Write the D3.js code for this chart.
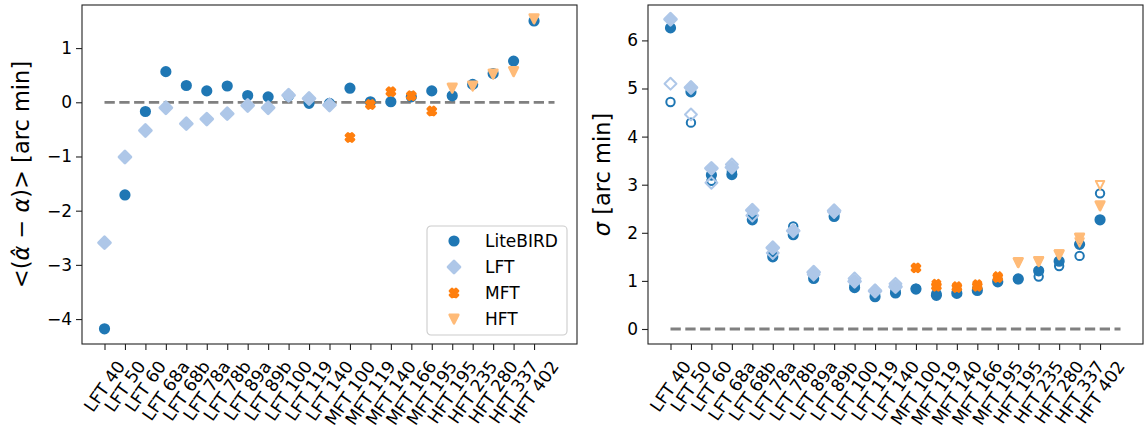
<!DOCTYPE html>
<html>
<head>
<meta charset="utf-8">
<script src="https://cdn.jsdelivr.net/npm/d3@7"></script>
<style>
body { margin: 0; background: #fff; }
text { font-family: "DejaVu Sans", sans-serif; }
</style>
</head>
<body>
<svg width="1145" height="435"></svg>
<script>
var svg = d3.select('svg');

// Channels on the x axis
var categories = ['LFT 40', 'LFT 50', 'LFT 60', 'LFT 68a', 'LFT 68b', 'LFT 78a', 'LFT 78b',
    'LFT 89a', 'LFT 89b', 'LFT 100', 'LFT 119', 'LFT 140', 'MFT 100', 'MFT 119', 'MFT 140',
    'MFT 166', 'MFT 195', 'HFT 195', 'HFT 235', 'HFT 280', 'HFT 337', 'HFT 402'];
var lftChannels = categories.slice(0, 12);
var mftChannels = categories.slice(12, 17);
var hftChannels = categories.slice(17);

// Left panel: mean bias [arc min]
var biasLiteBIRD = [-4.18, -1.71, -0.17, 0.565, 0.31, 0.21, 0.30, 0.125, 0.10, 0.12, -0.02, -0.02,
    0.26, 0.01, 0.01, 0.10, 0.21, 0.12, 0.33, 0.53, 0.76, 1.50];
var biasLFT = [-2.59, -1.01, -0.52, -0.10, -0.395, -0.31, -0.21, -0.06, -0.10, 0.13, 0.07, -0.05];
var biasMFT = [-0.65, -0.04, 0.195, 0.12, -0.16];
var biasHFT = [0.26, 0.30, 0.52, 0.565, 1.54];

// Right panel: sigma [arc min], filled and open estimates
var sigmaLiteBIRD = [6.26, 4.93, 3.20, 3.21, 2.27, 1.50, 1.96, 1.05, 2.34, 0.86, 0.67, 0.75,
    0.83, 0.70, 0.74, 0.80, 0.98, 1.04, 1.21, 1.41, 1.76, 2.27];
var sigmaLiteBIRDOpen = [4.72, 4.29, 3.08, 3.28, 2.36, 1.56, 2.13, 1.10, 2.38, 0.91, 0.72, 0.80,
    0.84, 0.74, 0.77, 0.84, 1.01, 1.04, 1.09, 1.31, 1.52, 2.82];
var sigmaLFT = [6.44, 5.02, 3.34, 3.36, 2.47, 1.69, 2.04, 1.18, 2.46, 0.99, 0.79, 0.88];
var sigmaLFTOpen = [5.10, 4.46, 3.04, 3.42, 2.36, 1.58, 2.05, 1.13, 2.43, 1.05, 0.80, 0.94];
var sigmaMFT = [1.27, 0.89, 0.86, 0.89, 1.07];
var sigmaMFTOpen = [1.27, 0.94, 0.89, 0.93, 1.10];
var sigmaHFT = [1.38, 1.40, 1.54, 1.89, 2.56];
var sigmaHFTOpen = [1.38, 1.41, 1.55, 1.80, 2.99];

var leftTicks = [-4, -3, -2, -1, 0, 1];
var rightTicks = [0, 1, 2, 3, 4, 5, 6];

var colors = {LiteBIRD: '#1f77b4', LFT: '#aec7e8', MFT: '#ff7f0e', HFT: '#ffbb78'};
var shapes = {LiteBIRD: 'circle', LFT: 'diamond', MFT: 'x', HFT: 'tri'};
var m = 8.4;

function markerPath(shape, s) {
    var h = s / 2;
    if (shape == 'circle') {
        var p = d3.path();
        p.arc(0, 0, h, 0, 2 * Math.PI);
        p.closePath();
        return p.toString();
    }
    if (shape == 'diamond') {
        var d = s * 0.7071;
        return 'M0,' + (-d) + 'L' + d + ',0L0,' + d + 'L' + (-d) + ',0Z';
    }
    if (shape == 'tri') {
        return 'M' + (-h) + ',' + (-h) + 'L' + h + ',' + (-h) + 'L0,' + h + 'Z';
    }
    // filled X: plus sign rotated by 45 degrees
    var pts = [[-1, -3], [1, -3], [1, -1], [3, -1], [3, 1], [1, 1], [1, 3], [-1, 3], [-1, 1], [-3, 1], [-3, -1], [-1, -1]];
    var c = Math.SQRT1_2;
    return 'M' + pts.map(function(q) {
        var px = q[0] * s / 6, py = q[1] * s / 6;
        return [(px * c - py * c).toFixed(2), (px * c + py * c).toFixed(2)];
    }).join('L') + 'Z';
}

function addMarkers(g, x, y, name, cats, values, open) {
    g.selectAll(null)
        .data(values)
        .enter()
        .append('path')
        .attr('d', markerPath(shapes[name], m))
        .attr('transform', function(d, i) {
            return 'translate(' + [x(categories.indexOf(cats[i])), y(d)] + ')';
        })
        .attr('fill', open ? 'none' : colors[name])
        .attr('stroke', colors[name])
        .attr('stroke-width', open ? 2 : 2.8)
        .attr('stroke-linejoin', 'round');
}

var plotTop = 5, plotBottom = 344;

function drawPanel(p) {
    var x = d3.scaleLinear().domain([-1.1, 23.1]).range([p.left, p.right]);
    var y = d3.scaleLinear().domain(p.yDomain).range([plotBottom, plotTop]);
    var g = svg.append('g');

    g.append('line')
        .attr('x1', x(0)).attr('x2', x(22))
        .attr('y1', y(0)).attr('y2', y(0))
        .attr('stroke', '#808080')
        .attr('stroke-width', 2.8)
        .attr('stroke-dasharray', '10.3,4.5');

    p.series.forEach(function(s) {
        addMarkers(g, x, y, s[0], s[1], s[2], s[3]);
    });

    g.append('rect')
        .attr('x', p.left).attr('y', plotTop)
        .attr('width', p.right - p.left).attr('height', plotBottom - plotTop)
        .attr('fill', 'none')
        .attr('stroke', '#222')
        .attr('stroke-width', 1.1);

    var yAxis = d3.axisLeft(y)
        .tickValues(p.yTicks)
        .tickSize(6)
        .tickPadding(4)
        .tickFormat(function(d) { return d < 0 ? '\u2212' + (-d) : d; });
    var ya = g.append('g')
        .attr('transform', 'translate(' + p.left + ',0)')
        .call(yAxis);
    ya.select('.domain').remove();
    ya.selectAll('line').attr('stroke', '#222').attr('stroke-width', 1.1);
    ya.selectAll('text')
        .attr('font-size', 17)
        .attr('font-family', 'DejaVu Sans')
        .attr('fill', '#000');

    var xAxis = d3.axisBottom(x)
        .tickValues(d3.range(categories.length))
        .tickSize(6)
        .tickFormat('');
    var xa = g.append('g')
        .attr('transform', 'translate(0,' + plotBottom + ')')
        .call(xAxis);
    xa.select('.domain').remove();
    xa.selectAll('line').attr('stroke', '#222').attr('stroke-width', 1.1);

    var angle = 55 * Math.PI / 180;
    categories.forEach(function(c, i) {
        var t = g.append('text')
            .text(c)
            .attr('font-size', 17.3)
            .attr('text-anchor', 'middle')
            .attr('dominant-baseline', 'central')
            .attr('fill', '#000');
        var w = t.node().getComputedTextLength();
        var hgt = 17;
        var bh = w * Math.sin(angle) + hgt * Math.cos(angle);
        var cx = x(i), cy = plotBottom + 14 + bh / 2;
        t.attr('x', cx).attr('y', cy)
            .attr('transform', 'rotate(-55,' + cx + ',' + cy + ')');
    });

    var lab = g.append('text')
        .attr('font-size', 22.5)
        .attr('text-anchor', 'middle')
        .attr('fill', '#000')
        .attr('transform', 'translate(' + p.labelX + ',' + ((plotTop + plotBottom) / 2) + ') rotate(-90)');
    p.label(lab);
    return {x: x, y: y};
}

drawPanel({
    left: 82, right: 577,
    yDomain: [-4.46, 1.795],
    yTicks: leftTicks,
    labelX: 29,
    series: [
        ['LiteBIRD', categories, biasLiteBIRD, false],
        ['LFT', lftChannels, biasLFT, false],
        ['MFT', mftChannels, biasMFT, false],
        ['HFT', hftChannels, biasHFT, false]
    ],
    label: function(t) {
        t.append('tspan').text('<(');
        t.append('tspan').attr('font-style', 'italic').text('\u03b1\u0302');
        t.append('tspan').text(' \u2212 ');
        t.append('tspan').attr('font-style', 'italic').text('\u03b1');
        t.append('tspan').text(')> [arc min]');
    }
});

drawPanel({
    left: 648, right: 1143,
    yDomain: [-0.312, 6.736],
    yTicks: rightTicks,
    labelX: 610,
    series: [
        ['LiteBIRD', categories, sigmaLiteBIRD, false],
        ['LiteBIRD', categories, sigmaLiteBIRDOpen, true],
        ['LFT', lftChannels, sigmaLFT, false],
        ['LFT', lftChannels, sigmaLFTOpen, true],
        ['MFT', mftChannels, sigmaMFT, false],
        ['MFT', mftChannels, sigmaMFTOpen, true],
        ['HFT', hftChannels, sigmaHFT, false],
        ['HFT', hftChannels, sigmaHFTOpen, true]
    ],
    label: function(t) {
        t.append('tspan').attr('font-style', 'italic').text('\u03c3');
        t.append('tspan').text(' [arc min]');
    }
});

// Legend (left panel)
var legendNames = ['LiteBIRD', 'LFT', 'MFT', 'HFT'];
var legend = svg.append('g').attr('transform', 'translate(427,226)');
legend.append('rect')
    .attr('width', 140).attr('height', 109)
    .attr('rx', 4)
    .attr('fill', '#fff').attr('fill-opacity', 0.8)
    .attr('stroke', '#cccccc').attr('stroke-width', 1.1);
var items = legend.selectAll('.item')
    .data(legendNames)
    .enter()
    .append('g')
    .attr('class', 'item')
    .attr('transform', function(d, i) { return 'translate(0,' + (15 + i * 26) + ')'; });
items.append('path')
    .attr('d', function(d) { return markerPath(shapes[d], m); })
    .attr('transform', 'translate(27,0)')
    .attr('fill', function(d) { return colors[d]; })
    .attr('stroke', function(d) { return colors[d]; })
    .attr('stroke-width', 2.8)
    .attr('stroke-linejoin', 'round');
items.append('text')
    .attr('x', 58)
    .attr('dy', '0.35em')
    .attr('font-size', 17)
    .attr('fill', '#000')
    .text(function(d) { return d; });
</script>
</body>
</html>
